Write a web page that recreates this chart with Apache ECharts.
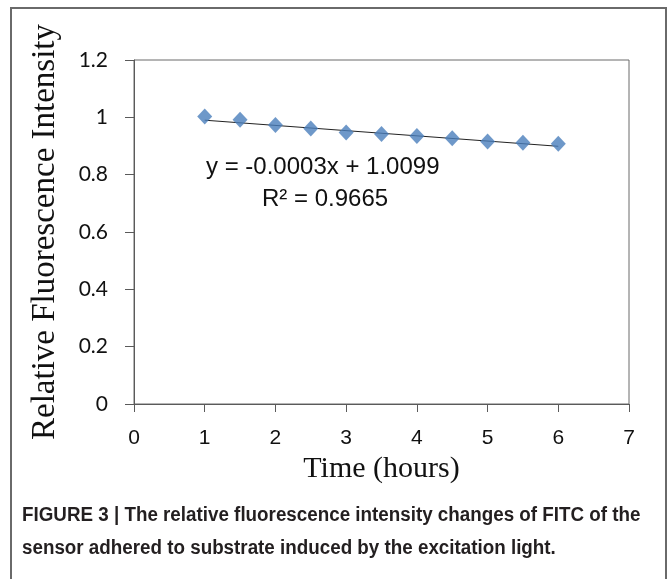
<!DOCTYPE html>
<html>
<head>
<meta charset="utf-8">
<script src="https://cdn.jsdelivr.net/npm/echarts@6/dist/echarts.min.js"></script>
<style>
html,body{margin:0;padding:0;background:#fff;}
#chart{width:667px;height:579px;}
</style>
</head>
<body>
<div id="chart"></div>
<script>
// Data
const timeHours = [1, 1.5, 2, 2.5, 3, 3.5, 4, 4.5, 5, 5.5, 6];
const intensity = [1.003, 0.992, 0.973, 0.961, 0.947, 0.942, 0.935, 0.927, 0.916, 0.911, 0.908];
const trendX = [1, 6];
const trendY = [0.990, 0.899];
const yTicks = { min: 0, max: 1.2, step: 0.2 };
const xTicks = { min: 0, max: 7, step: 1 };
const eqText = 'y = -0.0003x + 1.0099';
const r2Text = 'R² = 0.9665';
const xName = 'Time (hours)';
const yName = 'Relative Fluorescence Intensity';
const caption1 = 'FIGURE 3 | The relative fluorescence intensity changes of FITC of the';
const caption2 = 'sensor adhered to substrate induced by the excitation light.';

const chart = echarts.init(document.getElementById('chart'), null, {renderer: 'canvas'});
const axisColor = '#5a5a5a';
chart.setOption({
  animation: false,
  backgroundColor: '#fff',
  grid: { left: 134, top: 60, right: 38, bottom: 175, show: true, borderColor: '#6a6a6a', borderWidth: 1, backgroundColor: 'transparent' },
  xAxis: {
    type: 'value', min: xTicks.min, max: xTicks.max, interval: xTicks.step,
    name: xName, nameLocation: 'middle', nameGap: 50,
    nameTextStyle: { fontFamily: 'Liberation Serif', fontSize: 30, color: '#111' },
    axisLine: { show: true, onZero: false, lineStyle: { color: axisColor, width: 1 } },
    axisTick: { show: true, inside: false, length: 8, lineStyle: { color: axisColor } },
    axisLabel: { fontFamily: 'Liberation Sans', fontSize: 21, color: '#111', margin: 24 },
    splitLine: { show: false }
  },
  yAxis: {
    type: 'value', min: yTicks.min, max: yTicks.max, interval: yTicks.step,
    name: yName, nameLocation: 'middle', nameGap: 72, nameRotate: 90,
    nameTextStyle: { fontFamily: 'Liberation Serif', fontSize: 33, color: '#111' },
    axisLine: { show: true, onZero: false, lineStyle: { color: axisColor, width: 1 } },
    axisTick: { show: true, inside: false, length: 9, lineStyle: { color: axisColor } },
    axisLabel: { fontFamily: 'Lato', fontSize: 21, color: '#111', margin: 26 },
    splitLine: { show: false }
  },
  series: [
    {
      type: 'line', data: trendX.map((x, i) => [x, trendY[i]]),
      symbol: 'none', lineStyle: { color: '#222', width: 1 }, z: 2
    },
    {
      type: 'scatter', data: timeHours.map((x, i) => [x, intensity[i]]),
      symbol: 'diamond', symbolSize: [15, 16],
      itemStyle: { color: '#4a7ebb' }, z: 3
    }
  ],
  graphic: [
    { type: 'rect', shape: { x: 11, y: 8, width: 655, height: 600 }, style: { fill: 'none', stroke: '#6a6a6a', lineWidth: 2 }, z: 10 },
    { type: 'text', left: 206, top: 155, style: { text: eqText, font: '24px "Liberation Sans"', fill: '#111' } },
    { type: 'text', left: 262, top: 187, style: { text: r2Text, font: '24px "Liberation Sans"', fill: '#111' } },
    { type: 'text', x: 22, y: 505, scaleX: 0.94, style: { text: caption1, font: 'bold 20px "Liberation Sans"', fill: '#231f20' } },
    { type: 'text', x: 22, y: 538, scaleX: 0.94, style: { text: caption2, font: 'bold 20px "Liberation Sans"', fill: '#231f20' } }
  ]
});
</script>
</body>
</html>
